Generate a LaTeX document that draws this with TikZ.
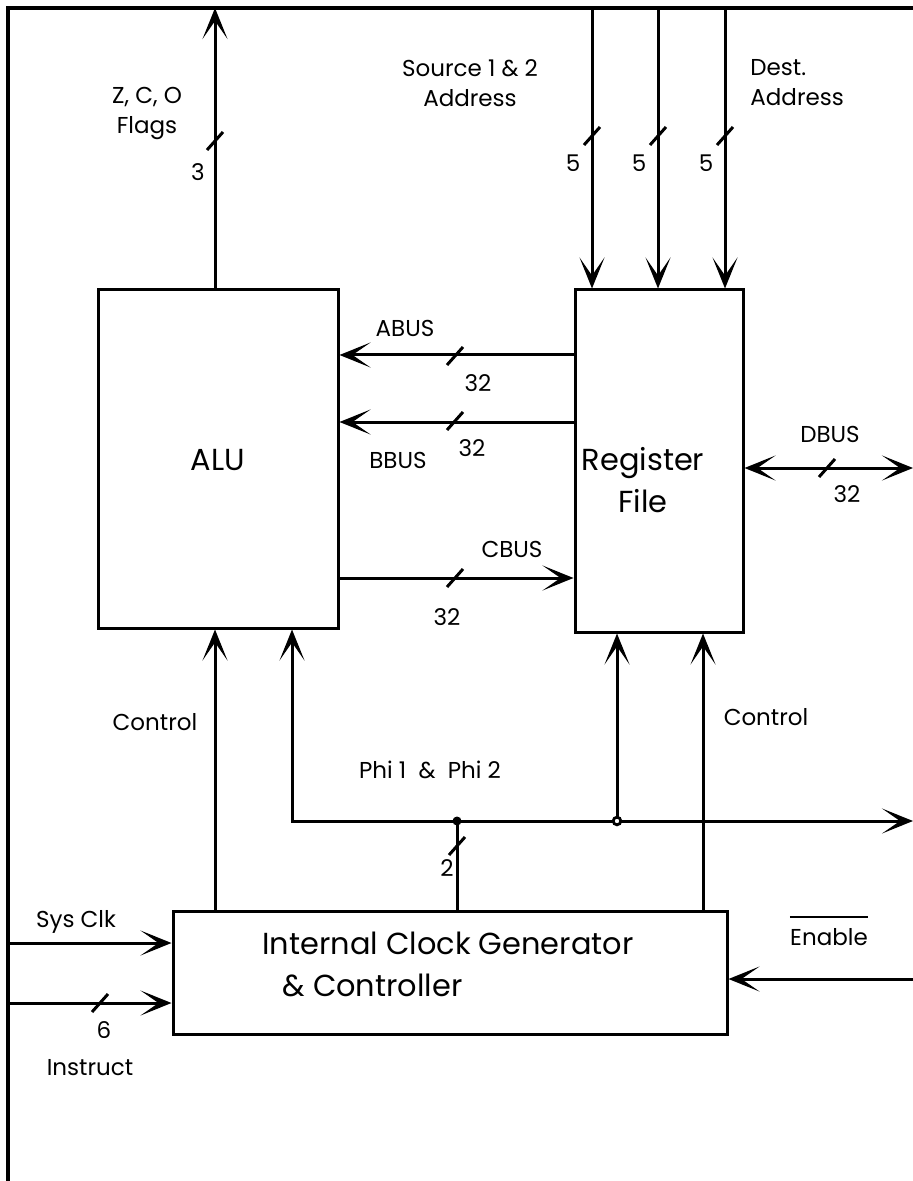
\documentclass[tikz,border=0pt]{standalone}
\usepackage{fontspec}
\setmainfont{Poppins}
\usepackage{tikz}
\usetikzlibrary{
  arrows.meta,
  positioning,
  calc
}
\definecolor{cpuInk}{HTML}{000000}
\tikzset{
  cpubox/.style={
    draw=cpuInk, rectangle, line width=1.5pt, inner sep=0pt
  },
  lbl/.style={font=\fontsize{11.5}{15}\selectfont, inner sep=0pt, align=center, text=cpuInk},
  bigtxt/.style={font=\fontsize{15.2}{21}\selectfont, inner sep=0pt, align=center, text=cpuInk},
  bus/.style={-{Stealth[length=15.5pt, width=12.5pt, inset=9pt, line width=1.1pt]}, line width=1.5pt, draw=cpuInk},
  dbus/.style={{Stealth[length=15.5pt, width=12.5pt, inset=9pt, line width=1.1pt]}-{Stealth[length=15.5pt, width=12.5pt, inset=9pt, line width=1.1pt]}, line width=1.5pt, draw=cpuInk},
  wire/.style={line width=1.5pt, draw=cpuInk},
  frameline/.style={line width=2pt, draw=cpuInk, line join=miter},
  busmark/.pic={\draw[line width=1.5pt, cpuInk] (-8,9) -- (8,-9);}
}

\begin{document}
\begin{tikzpicture}[x=0.5pt, y=-0.5pt]
  \useasboundingbox (0,0) rectangle (913,1181);

  % frame edges
  \coordinate (ftl) at (8,8);
  \coordinate (ftr) at (913,8);
  \coordinate (fbl) at (8,1181);
  \draw[frameline] (fbl) -- (ftl) -- (ftr);

  % blocks
  \node[cpubox, minimum width=120pt, minimum height=169pt] (alu) at (218,459) {};
  \node[bigtxt] (alutxt) at (218,460) {ALU};
  \node[cpubox, minimum width=84pt, minimum height=171pt] (regfile) at (659,461) {};
  \node[bigtxt] (regtxt) at (643,480) {Register\\File};
  \node[cpubox, minimum width=277pt, minimum height=61.5pt] (clk) at (450,972.5) {};
  \node[bigtxt, align=left] (clktxt) at (448,964) {Internal Clock Generator\\\hspace{10pt}\& Controller};

  % address inputs
  \foreach \ax in {592,658,725}{
    \draw[bus] (ftl -| \ax,0) -- (regfile.north -| \ax,0);
    \pic at (\ax,136) {busmark};
    \node[lbl] at (\ax-19,163) {5};
  }
  \node[lbl] (srclbl) at (470,83) {Source 1 \& 2\\Address};
  \node[lbl, anchor=west, align=left] (dstlbl) at (750,83) {Dest.\\Address};

  % flags out
  \draw[bus] (alu.north -| 215,0) -- (ftl -| 215,0);
  \pic at (215,141) {busmark};
  \node[lbl] at (198,172) {3};
  \node[lbl] (flaglbl) at (147,113) {Z, C, O\\Flags};

  % A, B, C buses
  \coordinate (abus) at (0,355);
  \coordinate (bbus) at (0,422);
  \coordinate (cbus) at (0,578);
  \draw[bus] (regfile.west |- abus) -- (alu.east |- abus);
  \draw[bus] (regfile.west |- bbus) -- (alu.east |- bbus);
  \draw[bus] (alu.east |- cbus) -- (regfile.west |- cbus);
  \pic at (455,356) {busmark};
  \pic at (455,421) {busmark};
  \pic at (455,578) {busmark};
  \node[lbl] at (405,328) {ABUS};
  \node[lbl] at (478,383) {32};
  \node[lbl] at (398,460) {BBUS};
  \node[lbl] at (472,448) {32};
  \node[lbl] at (512,549) {CBUS};
  \node[lbl] at (447,617) {32};

  % data bus
  \coordinate (dout) at (913,468);
  \draw[dbus] (regfile.east |- dout) -- (dout);
  \pic at (827,468) {busmark};
  \node[lbl] at (830,434) {DBUS};
  \node[lbl] at (847,494) {32};

  % control lines
  \draw[bus] (clk.north -| 215,0) -- (alu.south -| 215,0);
  \draw[bus] (clk.north -| 703,0) -- (regfile.south -| 703,0);
  \node[lbl] at (155,722) {Control};
  \node[lbl] at (766,717) {Control};

  % clock phases
  \coordinate (phiL) at (292,821);
  \coordinate (phiA) at (457,821);
  \coordinate (phiB) at (617,821);
  \coordinate (phiR) at (913,821);
  \draw[dbus] (alu.south -| phiL) -- (phiL) -- (phiR);
  \draw[bus] (phiB) -- (regfile.south -| phiB);
  \draw[wire] (clk.north -| phiA) -- (phiA);
  \fill[cpuInk] (phiA) circle (4.5);
  \draw[line width=1.4pt, fill=white] (phiB) circle (3.8);
  \pic at (457,846) {busmark};
  \node[lbl] at (447,868) {2};
  \node[lbl] at (430,770) {Phi 1\ \ \&\ \ Phi 2};

  % external inputs
  \coordinate (sysin) at (8,943);
  \coordinate (insin) at (8,1003);
  \coordinate (enin) at (913,979);
  \draw[bus] (sysin) -- (clk.west |- sysin);
  \draw[bus] (insin) -- (clk.west |- insin);
  \draw[bus] (enin) -- (clk.east |- enin);
  \pic at (100,1003) {busmark};
  \node[lbl] at (76,922) {Sys Clk};
  \node[lbl] at (104,1030) {6};
  \node[lbl] at (90,1068) {Instruct};
  \node[lbl] (enlbl) at (829,937) {Enable};
  \draw[line width=1pt] ($(enlbl.north west)+(0,-11)$) -- ($(enlbl.north east)+(0,-11)$);
\end{tikzpicture}
\end{document}
